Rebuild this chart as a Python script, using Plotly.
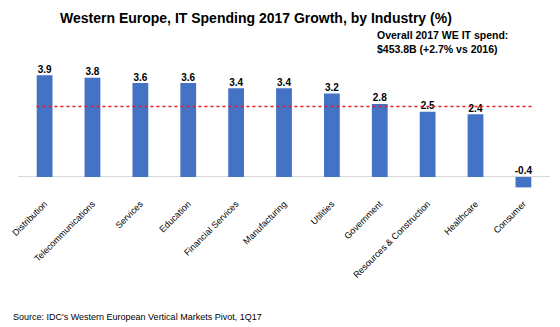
import plotly.graph_objects as go

industries = ["Distribution", "Telecommunications", "Services", "Education",
              "Financial Services", "Manufacturing", "Utilities", "Government",
              "Resources & Construction", "Healthcare", "Consumer"]
growth = [3.9, 3.8, 3.6, 3.6, 3.4, 3.4, 3.2, 2.8, 2.5, 2.4, -0.4]
overall_growth = 2.7

FONT = "Arial, Liberation Sans, sans-serif"
BLUE = "#4472C4"

fig = go.Figure()
fig.add_trace(go.Bar(
    x=industries, y=growth, marker_color=BLUE, marker_line_width=0,
    hoverinfo="skip",
))
# value labels sit above the bar top, or above the zero line for negatives
fig.add_trace(go.Scatter(
    x=industries, y=[max(v, 0) for v in growth],
    text=[f"{v:.1f}" for v in growth], mode="text",
    textposition="top center", cliponaxis=False,
    textfont=dict(family=FONT, size=10, color="#000000", weight="bold"),
    hoverinfo="skip",
))

# overall market growth reference line
fig.add_shape(type="line", xref="x", yref="y",
              x0=-0.17, x1=10.22, y0=overall_growth, y1=overall_growth,
              line=dict(color="#E8202A", width=1.3, dash="dot"))

fig.add_annotation(
    text="<b>Overall 2017 WE IT spend:<br>$453.8B (+2.7% vs 2016)</b>",
    xref="paper", yref="paper", x=0.925, y=1.36, xanchor="right", yanchor="top",
    align="left", showarrow=False,
    font=dict(family=FONT, size=10.5, color="#000000"),
)
fig.add_annotation(
    text="Source: IDC's Western European Vertical Markets Pivot, 1Q17",
    xref="paper", yref="paper", x=-0.013, y=-1.055, xanchor="left", yanchor="middle",
    showarrow=False, font=dict(family=FONT, size=9, color="#000000"),
)

fig.update_layout(
    width=560, height=327,
    margin=dict(l=16, r=10, t=70, b=137),
    paper_bgcolor="white", plot_bgcolor="white",
    showlegend=False, bargap=0.67,
    title=dict(text="<b>Western Europe, IT Spending 2017 Growth, by Industry (%)</b>",
               x=0.457, xanchor="center", y=0.945, yanchor="middle",
               font=dict(family=FONT, size=14, color="#000000")),
    font=dict(family=FONT),
)
fig.update_xaxes(
    showgrid=False, showline=False, zeroline=False,
    tickangle=-45, tickfont=dict(family=FONT, size=9, color="#000000"),
    ticks="", ticklabelstandoff=6,
)
fig.update_yaxes(
    range=[-0.5, 4.1], visible=True, showticklabels=False, showgrid=False,
    zeroline=True, zerolinecolor="#D9D9D9", zerolinewidth=1, showline=False,
)

fig.write_html("out.html")
